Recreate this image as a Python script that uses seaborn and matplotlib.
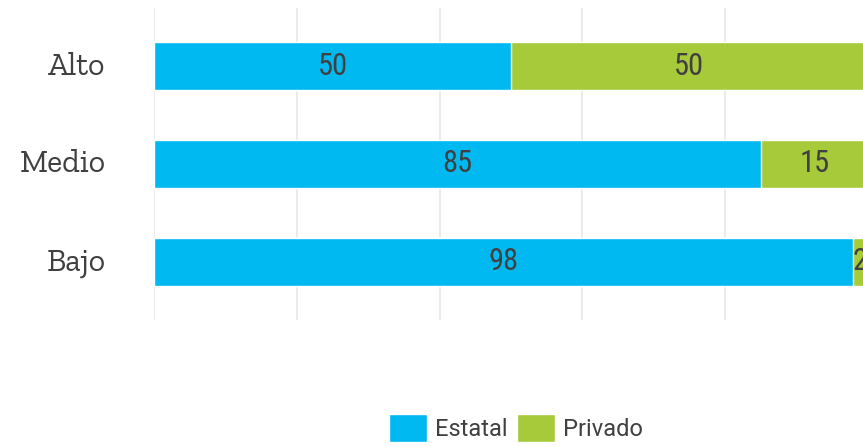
import matplotlib
matplotlib.use("Agg")
import matplotlib.pyplot as plt
import matplotlib.transforms as mtrans
import seaborn as sns
import pandas as pd
from matplotlib import font_manager as fm

niveles = ["Alto", "Medio", "Bajo"]
estatal = [50, 85, 98]
privado = [50, 15, 2]

color_estatal = "#00b9f1"
color_privado = "#a6ca3a"
texto = "#404040"

disponibles = {f.name for f in fm.fontManager.ttflist}


def fuente(opciones):
    for nombre in opciones:
        if nombre in disponibles:
            return nombre
    return "DejaVu Sans"


slab = fuente(["Roboto Slab", "Zilla Slab", "Bitter", "Arvo", "DejaVu Serif"])
condensada = fuente(["Roboto Condensed", "DejaVu Sans"])
normal = fuente(["Roboto", "DejaVu Sans"])

df = pd.DataFrame({"nivel": niveles, "Estatal": estatal, "Privado": privado})
df["total"] = df["Estatal"] + df["Privado"]

sns.set_style("white")
fig = plt.figure(figsize=(8.63, 4.46), dpi=100)
ax = fig.add_axes([154 / 863, 126 / 446, 713.75 / 863, 312 / 446])

# barra total (verde) y encima la parte estatal (azul)
sns.barplot(data=df, y="nivel", x="total", orient="h", color=color_privado,
            width=0.49, saturation=1, ax=ax, label="Privado")
sns.barplot(data=df, y="nivel", x="Estatal", orient="h", color=color_estatal,
            width=0.49, saturation=1, ax=ax, label="Estatal")
handles, labels = ax.get_legend_handles_labels()
if ax.get_legend() is not None:
    ax.get_legend().remove()

ax.set_xlim(0, 100)
ax.set_ylim(2.592, -0.592)
ax.set_xticks([0, 20, 40, 60, 80, 100])
ax.xaxis.grid(True, color="#e8e8e8", linewidth=1.2)
ax.set_axisbelow(True)
ax.tick_params(axis="x", length=0, labelbottom=False)
ax.tick_params(axis="y", length=0, pad=35)
for s in ax.spines.values():
    s.set_visible(False)
ax.set_xlabel("")
ax.set_ylabel("")
subir = mtrans.ScaledTranslation(0, 3 / 100, fig.dpi_scale_trans)
for lab in ax.get_yticklabels():
    lab.set_fontfamily(slab)
    lab.set_fontsize(23)
    lab.set_color(texto)
    lab.set_transform(lab.get_transform() + subir)

# etiquetas de valores
for i in range(len(niveles)):
    ax.text(estatal[i] / 2, i, str(estatal[i]), ha="center", va="center",
            fontsize=22, family=condensada, color=texto)
    ax.text(estatal[i] + privado[i] / 2, i, str(privado[i]), ha="center", va="center",
            fontsize=22, family=condensada, color=texto, clip_on=False)

orden = [labels.index("Estatal"), labels.index("Privado")]
fig.legend([handles[k] for k in orden], [labels[k] for k in orden],
           loc="center", bbox_to_anchor=(516 / 863, 18 / 446), ncol=2,
           frameon=False, prop={"family": normal, "size": 17},
           handlelength=1.6, handleheight=1.45, handletextpad=0.35,
           columnspacing=0.4, labelcolor=texto)

fig.savefig("out.png", dpi=100)
